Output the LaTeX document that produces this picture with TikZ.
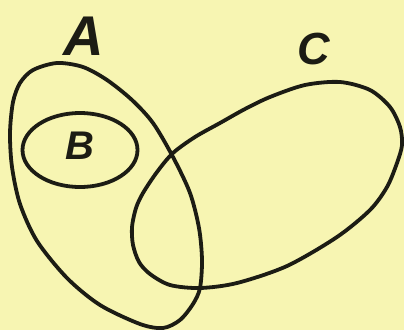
\documentclass[tikz,border=0pt]{standalone}
\usepackage{fontspec}
\setmainfont{Liberation Sans}
\definecolor{bg}{RGB}{247,245,178}
\definecolor{ink}{RGB}{28,28,20}
\begin{document}
\begin{tikzpicture}[x=1pt,y=-1pt,
  setline/.style={draw=ink,line width=3.8pt,line join=round},
  lbl/.style={text=ink,inner sep=0pt,anchor=center}]
\fill[bg] (0,0) rectangle (404,330);
\useasboundingbox (0,0) rectangle (404,330);
% set A
\draw[setline] plot[smooth cycle,tension=0.5] coordinates {
  (33,70) (57,63) (83,67) (107,80) (132,100) (153,123) (173,157) (190,193)
  (199,228) (202,260) (200,288) (193,304) (180,320) (163,328) (140,324)
  (100,305) (67,278) (37,241) (20,204) (12,167) (10,133) (13,102) (20,83)};
% set B
\coordinate (cB) at (80,150);
\draw[setline] (cB) ellipse [x radius=57.5, y radius=37];
% set C
\draw[setline] plot[smooth cycle,tension=0.5] coordinates {
  (340,82) (370,90) (390,107) (400,127) (402,145) (397,163) (387,187)
  (370,210) (337,237) (287,266) (237,283) (200,288) (170,285) (150,274)
  (139,262) (133,245) (132,227) (136,208) (143,193) (157,172) (173,153)
  (195,137) (220,123) (245,109) (270,97) (305,85)};
\node[lbl,font=\fontsize{56}{60}\selectfont\bfseries\itshape] (la) at (84,36) {A};
\node[lbl,font=\fontsize{40}{44}\selectfont\bfseries\itshape] (lb) at (80,146) {B};
\node[lbl,font=\fontsize{45}{50}\selectfont\bfseries\itshape] (lc) at (314,49) {C};
\end{tikzpicture}
\end{document}
